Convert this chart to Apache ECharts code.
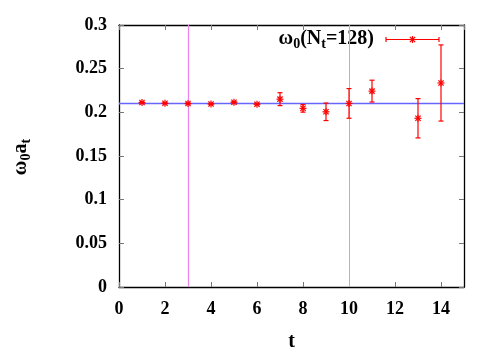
<!DOCTYPE html>
<html>
<head>
<meta charset="utf-8">
<script src="https://cdn.jsdelivr.net/npm/echarts@6/dist/echarts.min.js"></script>
<style>
html, body { margin: 0; padding: 0; background: #fff; }
#main { width: 500px; height: 350px; }
</style>
</head>
<body>
<div id="main"></div>
<script>
// data
var tVals = [1, 2, 3, 4, 5, 6, 7, 8, 9, 10, 11, 13, 14];
var omega = [0.2112, 0.2104, 0.2101, 0.2096, 0.2116, 0.2093, 0.2151, 0.2046, 0.2006, 0.2102, 0.2243, 0.1932, 0.2336];
var omegaErr = [0.0008, 0.0007, 0.0008, 0.0008, 0.0008, 0.0008, 0.0074, 0.0044, 0.0100, 0.0170, 0.0125, 0.0225, 0.0436];
var fitBand = [0.2085, 0.2117];
var windowLines = [3, 10];
var xTicks = [0, 2, 4, 6, 8, 10, 12, 14];
var yTicks = [0, 0.05, 0.1, 0.15, 0.2, 0.25, 0.3];

var serif = 'Liberation Serif';
var labRich = {b: {fontFamily: serif, fontWeight: 'bold', fontSize: 18, color: '#000'}};

var chart = echarts.init(document.getElementById('main'));

var points = [];
for (var i = 0; i < tVals.length; i++) {
    points.push([tVals[i], omega[i], omegaErr[i]]);
}

function starLines(cx, cy, s, style) {
    var d = s * 0.75;
    return [
        {type: 'line', shape: {x1: cx - s, y1: cy, x2: cx + s, y2: cy}, style: style},
        {type: 'line', shape: {x1: cx, y1: cy - s, x2: cx, y2: cy + s}, style: style},
        {type: 'line', shape: {x1: cx - d, y1: cy - d, x2: cx + d, y2: cy + d}, style: style},
        {type: 'line', shape: {x1: cx - d, y1: cy + d, x2: cx + d, y2: cy - d}, style: style}
    ];
}

function renderErr(params, api) {
    var x = api.value(0), y = api.value(1), e = api.value(2);
    var c = api.coord([x, y]);
    var hi = api.coord([x, y + e]);
    var lo = api.coord([x, y - e]);
    var st = {stroke: '#ff0000', lineWidth: 1.2};
    var cap = 2.5;
    var kids = [
        {type: 'line', shape: {x1: c[0], y1: hi[1], x2: c[0], y2: lo[1]}, style: st},
        {type: 'line', shape: {x1: c[0] - cap, y1: hi[1], x2: c[0] + cap, y2: hi[1]}, style: st},
        {type: 'line', shape: {x1: c[0] - cap, y1: lo[1], x2: c[0] + cap, y2: lo[1]}, style: st}
    ];
    return {type: 'group', children: kids.concat(starLines(c[0], c[1], 3.5, st))};
}

var legendStyle = {stroke: '#ff0000', lineWidth: 1.2};

chart.setOption({
    animation: false,
    textStyle: {fontFamily: serif},
    grid: {left: 119, right: 36, top: 25, bottom: 63, outerBoundsMode: 'none', containLabel: false},
    xAxis: [{
        type: 'value',
        min: 0, max: 15, interval: 2,
        name: '{b|t}',
        nameLocation: 'middle',
        nameGap: 45,
        nameTextStyle: {rich: {b: {fontFamily: serif, fontWeight: 'bold', fontSize: 20, color: '#000'}}},
        axisLine: {onZero: false, lineStyle: {color: '#000', width: 1.3}},
        axisTick: {inside: true, length: 5, lineStyle: {color: '#777'}},
        axisLabel: {
            margin: 13, rich: labRich,
            showMaxLabel: false,
            formatter: function (v) { return xTicks.indexOf(v) >= 0 ? '{b|' + v + '}' : ''; }
        },
        splitLine: {show: false}
    }, {
        type: 'value',
        position: 'top',
        min: 0, max: 15, interval: 2,
        axisLine: {show: true, onZero: false, lineStyle: {color: '#000', width: 1.3}},
        axisTick: {inside: true, length: 5, lineStyle: {color: '#777'}},
        axisLabel: {show: false},
        splitLine: {show: false}
    }],
    yAxis: [{
        type: 'value',
        min: 0, max: 0.3, interval: 0.05,
        axisLine: {show: true, onZero: false, lineStyle: {color: '#000', width: 1.3}},
        axisTick: {show: true, inside: true, length: 5, lineStyle: {color: '#777'}},
        axisLabel: {
            margin: 12, rich: labRich,
            formatter: function (v) {
                for (var k = 0; k < yTicks.length; k++) {
                    if (Math.abs(yTicks[k] - v) < 1e-9) return '{b|' + yTicks[k] + '}';
                }
                return '';
            }
        },
        splitLine: {show: false}
    }, {
        type: 'value',
        position: 'right',
        min: 0, max: 0.3, interval: 0.05,
        axisLine: {show: true, onZero: false, lineStyle: {color: '#000', width: 1.3}},
        axisTick: {show: true, inside: true, length: 5, lineStyle: {color: '#777'}},
        axisLabel: {show: false},
        splitLine: {show: false}
    }],
    series: [{
        // fit band + window lines
        type: 'line',
        data: [[0, fitBand[0]]],
        symbol: 'none',
        silent: true,
        lineStyle: {opacity: 0},
        markArea: {
            silent: true,
            itemStyle: {color: 'rgba(170,170,255,0.45)'},
            data: [[{yAxis: fitBand[0]}, {yAxis: fitBand[1]}]]
        },
        markLine: {
            silent: true,
            symbol: 'none',
            label: {show: false},
            lineStyle: {type: 'solid', color: '#6666ff', width: 1},
            data: [
                {yAxis: fitBand[0]},
                {yAxis: fitBand[1]},
                {xAxis: windowLines[0], lineStyle: {color: '#ee82ee', width: 1.2}},
                {xAxis: windowLines[1], lineStyle: {color: '#dd99dd', width: 1}}
            ]
        }
    }, {
        type: 'custom',
        renderItem: renderErr,
        data: points,
        z: 5
    }],
    graphic: [{
        type: 'text',
        right: 126,
        top: 29,
        style: {
            text: 'ω{s|0}(N{s|t}=128)',
            fontFamily: serif, fontWeight: 'bold', fontSize: 20, fill: '#000',
            rich: {s: {fontFamily: serif, fontWeight: 'bold', fontSize: 14, padding: [10, 0, 0, 0]}}
        }
    }, {
        type: 'group',
        children: [
            {type: 'line', shape: {x1: 386, y1: 39.5, x2: 439, y2: 39.5}, style: legendStyle},
            {type: 'line', shape: {x1: 386, y1: 37, x2: 386, y2: 42}, style: legendStyle},
            {type: 'line', shape: {x1: 439, y1: 37, x2: 439, y2: 42}, style: legendStyle}
        ].concat(starLines(412.5, 39.5, 3.5, legendStyle))
    }, {
        type: 'text',
        x: 21, y: 157,
        rotation: Math.PI / 2,
        style: {
            text: 'ω{s|0}a{s|t}',
            align: 'center', verticalAlign: 'middle',
            fontFamily: serif, fontWeight: 'bold', fontSize: 20, fill: '#000',
            rich: {s: {fontFamily: serif, fontWeight: 'bold', fontSize: 14, padding: [10, 0, 0, 0]}}
        }
    }]
});
</script>
</body>
</html>
